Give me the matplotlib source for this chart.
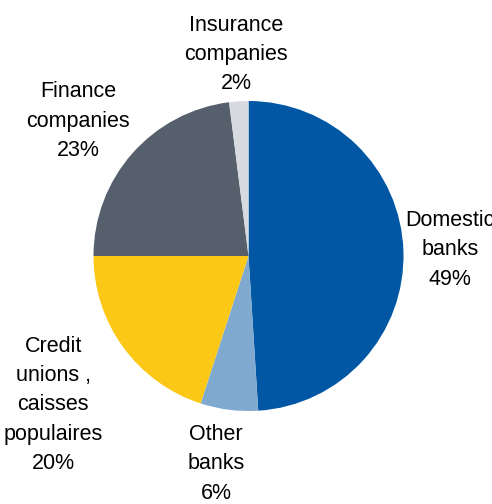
import matplotlib
matplotlib.use('Agg')
import matplotlib.pyplot as plt

plt.rcParams['font.family'] = ['Liberation Sans', 'DejaVu Sans']

# Holdings by sector, clockwise from 12 o'clock
sectors = ['Domestic\nbanks', 'Other\nbanks', 'Credit\nunions ,\ncaisses\npopulaires',
           'Finance\ncompanies', 'Insurance\ncompanies']
shares = [49, 6, 20, 23, 2]
colors = ['#0257A5', '#7FA9CF', '#FCC818', '#56606D', '#D7DADE']
# label anchors, in pie radii from the centre
label_xy = [(1.30, 0.04), (-0.21, -1.34), (-1.26, -0.96), (-1.10, 0.87), (-0.08, 1.30)]

W, H = 492, 504
cx, cy, r = 248.5, 256, 155

fig = plt.figure(figsize=(W / 100, H / 100), dpi=100)
ax = fig.add_axes([0, 0, 1, 1])
wedges, _ = ax.pie(shares, colors=colors, startangle=90, counterclock=False,
                   radius=1, wedgeprops=dict(linewidth=0))
ax.set_xlim(-cx / r, (W - cx) / r)
ax.set_ylim(-(H - cy) / r, cy / r)
ax.axis('off')

for name, share, (x, y) in zip(sectors, shares, label_xy):
    ax.text(x, y, f'{name}\n{share}%', ha='center', va='center',
            fontsize=15.5, linespacing=1.52)

fig.savefig('out.png', dpi=100)
